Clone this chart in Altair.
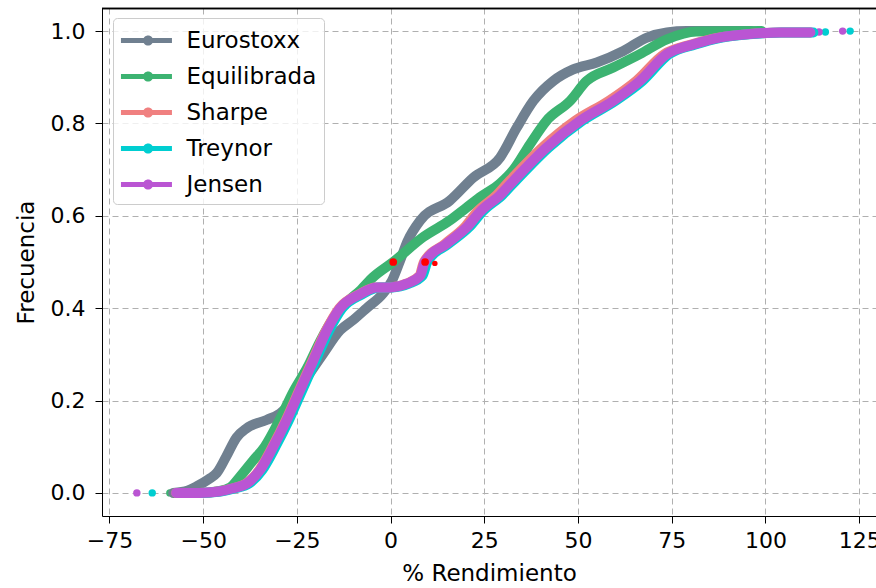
import altair as alt
import pandas as pd

FONT = "DejaVu Sans"

series_names = ["Eurostoxx", "Equilibrada", "Sharpe", "Treynor", "Jensen"]
series_colors = ["#708090", "#3CB371", "#F08080", "#00CED1", "#BA55D3"]

# --- ECDF bodies (x = % Rendimiento, y = Frecuencia) ---
euro_x = [-58, -54.1, -51.8, -48.5, -46.4, -43.9, -41.1, -38.4, -33.1, -29.5, -26.4,
          -22.3, -18.1, -13.5, -9.9, -6.4, -2.0, 0.4, 2.4, 4.5, 7.9, 15.8, 22.1, 29.2,
          33.6, 38.1, 43.4, 48.7, 55.0, 62.1, 68.4, 73.7, 79.0, 96]
euro_y = [0, 0.005, 0.014, 0.03, 0.043, 0.078, 0.12, 0.14, 0.158, 0.172, 0.197,
          0.25, 0.30, 0.352, 0.375, 0.40, 0.432, 0.46, 0.50, 0.545, 0.59, 0.633, 0.683, 0.726,
          0.79, 0.849, 0.892, 0.917, 0.932, 0.957, 0.986, 0.997, 1.0, 1.0]

equi_x = [-57.2, -51.1, -45.9, -42.8, -40.2, -36.7, -33.6, -29.5, -25.9, -22.3, -18.7,
          -15.1, -12.0, -7.9, -4.7, 0.7, 8.7, 15.8, 20.3, 23.8, 29.2, 32.8, 37.2, 41.6,
          47.9, 52.3, 59.4, 66.5, 73.7, 81.6, 99]
equi_y = [0, 0, 0.004, 0.012, 0.035, 0.07, 0.10, 0.16, 0.22, 0.27, 0.33,
          0.38, 0.41, 0.44, 0.467, 0.50, 0.554, 0.59, 0.618, 0.64, 0.67, 0.70, 0.755, 0.806,
          0.849, 0.892, 0.921, 0.95, 0.982, 0.999, 1.0]

sharpe_x = [-57.2, -51.1, -45.9, -42.0, -38.6, -35.0, -31.5, -27.9, -24.4, -20.8, -17.2,
            -13.7, -8.4, -3.9, -0.3, 4.1, 7.7, 8.9, 14.6, 19.7, 23.2, 28.3, 31.8, 40.5,
            49.3, 58.2, 65.5, 73.0, 80.2, 87.5, 95.0, 104.0, 112.0]
sharpe_y = [0, 0, 0.003, 0.01, 0.02, 0.05, 0.10, 0.158, 0.222, 0.287, 0.352,
            0.40, 0.43, 0.445, 0.445, 0.453, 0.47, 0.50, 0.54, 0.575, 0.61, 0.645, 0.676, 0.748,
            0.806, 0.849, 0.892, 0.95, 0.971, 0.986, 0.993, 0.997, 0.997]

trey_x = [-56.8, -50.6, -45.3, -41.4, -37.8, -34.2, -30.7, -27.1, -23.6, -20.0, -16.4,
          -12.9, -7.6, -3.1, 0.5, 4.9, 8.5, 9.8, 15.6, 20.9, 24.6, 29.8, 33.4, 42.2,
          51.2, 60.0, 67.2, 74.3, 81.3, 88.4, 95.6, 104.4, 112.8]
trey_y = [0, 0, 0.003, 0.01, 0.02, 0.05, 0.10, 0.158, 0.222, 0.287, 0.352,
          0.40, 0.43, 0.445, 0.445, 0.453, 0.47, 0.50, 0.54, 0.575, 0.61, 0.645, 0.676, 0.748,
          0.806, 0.849, 0.892, 0.95, 0.971, 0.986, 0.993, 0.997, 0.997]

jens_x = [-57.2, -51.1, -45.9, -42.0, -38.4, -34.8, -31.3, -27.7, -24.2, -20.6, -17.0,
          -13.5, -8.2, -3.7, -0.1, 4.3, 7.9, 9.1, 15.0, 20.3, 24.0, 29.2, 32.8, 41.6,
          50.6, 59.4, 66.5, 73.7, 80.7, 87.8, 95.0, 103.8, 112.0]
jens_y = [0, 0, 0.003, 0.01, 0.02, 0.05, 0.10, 0.158, 0.222, 0.287, 0.352,
          0.40, 0.43, 0.445, 0.445, 0.453, 0.47, 0.50, 0.54, 0.575, 0.61, 0.645, 0.676, 0.748,
          0.806, 0.849, 0.892, 0.95, 0.971, 0.986, 0.993, 0.997, 0.997]

# --- isolated tail observations ---
equi_tail_x = [-58.9]
equi_tail_y = [0.0]
trey_tail_x = [-63.6, 116.0, 122.6]
trey_tail_y = [0.0, 0.998, 1.0]
jens_tail_x = [-67.7, 114.3, 120.6]
jens_tail_y = [0.0, 0.998, 1.0]

# --- medians (red markers) ---
median_x = [0.7, 9.2]
median_y = [0.5, 0.5]
hidden_median_x = [11.8]
hidden_median_y = [0.497]

x_ticks = [-75, -50, -25, 0, 25, 50, 75, 100, 125]
y_ticks = [0.0, 0.2, 0.4, 0.6, 0.8, 1.0]


def frame(name, xs, ys):
    return pd.DataFrame({"serie": name, "x": xs, "y": ys, "i": list(range(len(xs)))})


bodies = {
    "Eurostoxx": frame("Eurostoxx", euro_x, euro_y),
    "Equilibrada": frame("Equilibrada", equi_x, equi_y),
    "Sharpe": frame("Sharpe", sharpe_x, sharpe_y),
    "Treynor": frame("Treynor", trey_x, trey_y),
    "Jensen": frame("Jensen", jens_x, jens_y),
}
tails = {
    "Equilibrada": frame("Equilibrada", equi_tail_x, equi_tail_y),
    "Treynor": frame("Treynor", trey_tail_x, trey_tail_y),
    "Jensen": frame("Jensen", jens_tail_x, jens_tail_y),
}
med_df = pd.DataFrame({"x": median_x, "y": median_y})
hid_df = pd.DataFrame({"x": hidden_median_x, "y": hidden_median_y})

XDOM = [-77, 129.5]
YDOM = [-0.05, 1.05]

color_scale = alt.Scale(domain=series_names, range=series_colors)
legend_path = ("M-0.97,-0.17L2.43,-0.17L2.43,0.17L-0.97,0.17Z"
               "M1.18,0A0.34,0.34,0,1,1,0.5,0A0.34,0.34,0,1,1,1.18,0Z")
legend = alt.Legend(
    title=None, orient="none", legendX=11, legendY=10,
    symbolType=legend_path, symbolSize=900, symbolStrokeWidth=0,
    symbolOpacity=1,
    labelFont=FONT, labelFontSize=23, labelColor="black", labelOffset=36,
    rowPadding=9, padding=7.5, fillColor="rgba(255,255,255,0.8)",
    strokeColor="#cccccc", cornerRadius=4,
)

x_enc = alt.X(
    "x:Q", scale=alt.Scale(domain=XDOM, nice=False, zero=False),
    axis=alt.Axis(values=x_ticks, format="d", title="% Rendimiento", grid=True,
                  gridColor="#b0b0b0", gridDash=[6, 4], gridWidth=1,
                  tickColor="black", tickSize=7, domainColor="black",
                  labelFont=FONT, labelFontSize=22, labelColor="black", labelPadding=7,
                  titleFont=FONT, titleFontSize=23, titleFontWeight="normal",
                  titleColor="black", titlePadding=11),
)
y_enc = alt.Y(
    "y:Q", scale=alt.Scale(domain=YDOM, nice=False, zero=False),
    axis=alt.Axis(values=y_ticks, format=".1f", title="Frecuencia", grid=True,
                  gridColor="#b0b0b0", gridDash=[6, 4], gridWidth=1,
                  tickColor="black", tickSize=7, domainColor="black",
                  labelFont=FONT, labelFontSize=22, labelColor="black", labelPadding=10,
                  titleFont=FONT, titleFontSize=23, titleFontWeight="normal",
                  titleColor="black", titlePadding=12),
)

color_enc = alt.Color("serie:N", scale=color_scale, legend=legend)

layers = []
for name in series_names:
    if name in tails:
        layers.append(
            alt.Chart(tails[name]).mark_circle(size=55, opacity=1).encode(
                x=x_enc, y=y_enc, color=color_enc)
        )
for name in series_names:
    if name == "Jensen":
        layers.append(
            alt.Chart(hid_df).mark_circle(size=30, color="red", opacity=1).encode(
                x=x_enc, y=y_enc)
        )
    layers.append(
        alt.Chart(bodies[name]).mark_line(strokeWidth=10, strokeCap="round",
                                          strokeJoin="round",
                                          interpolate="monotone").encode(
            x=x_enc, y=y_enc, color=color_enc, order="i:Q")
    )
layers.append(
    alt.Chart(med_df).mark_circle(size=60, color="red", opacity=1).encode(
        x=x_enc, y=y_enc)
)
# top spine of the frame (frame element, not data)
layers.append(
    alt.Chart(med_df).mark_rule(color="black", strokeWidth=1.5).encode(
        x=alt.value(0), x2=alt.value(774), y=alt.value(0.5))
)

chart = alt.layer(*layers).properties(
    width=774, height=508,
    padding={"left": 102, "top": 8, "right": 0, "bottom": 72},
    autosize=alt.AutoSizeParams(type="none"),
    background="white",
).configure_view(stroke=None)

chart.save("out.html", embed_options={"renderer": "svg", "actions": False})
